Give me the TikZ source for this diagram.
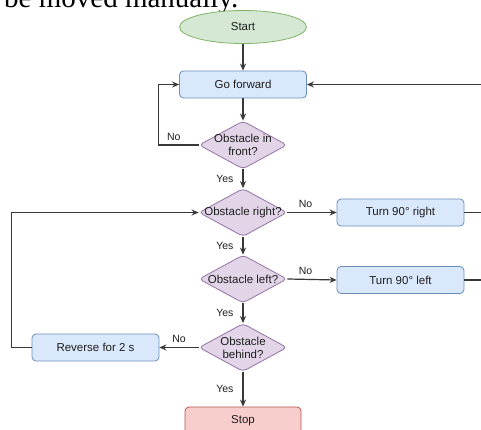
\documentclass[tikz,border=0pt]{standalone}
\usepackage{fontspec}
\newfontfamily\lsans{Liberation Sans}
\newfontfamily\lserif{Liberation Serif}
\usetikzlibrary{shapes.geometric,arrows.meta}
\definecolor{gfill}{HTML}{D5E8D4}\definecolor{gdraw}{HTML}{82B366}
\definecolor{bfill}{HTML}{DAE8FC}\definecolor{bdraw}{HTML}{6C8EBF}
\definecolor{pfill}{HTML}{E1D5E7}\definecolor{pdraw}{HTML}{9673A6}
\definecolor{rfill}{HTML}{F8CECC}\definecolor{rdraw}{HTML}{B85450}
\definecolor{ink}{HTML}{1E1E1E}
\definecolor{wire}{HTML}{383838}
\tikzset{
  txt/.style={font=\lsans\fontsize{11.5}{13}\selectfont, text=ink},
  proc/.style={txt, rectangle, rounded corners=4pt, draw=bdraw, fill=bfill, line width=0.8pt,
    minimum width=127pt, minimum height=27pt, inner sep=0pt},
  startbox/.style={txt, ellipse, draw=gdraw, fill=gfill, line width=0.8pt,
    minimum width=127pt, minimum height=33pt, inner sep=0pt},
  stopbox/.style={txt, rectangle, rounded corners=4pt, draw=rdraw, fill=rfill, line width=0.8pt,
    minimum width=116pt, minimum height=27pt, inner sep=0pt},
  dec/.style={diamond, rounded corners=4pt, draw=pdraw, fill=pfill, line width=0.8pt,
    minimum width=88pt, minimum height=48pt, inner sep=0pt},
  dlab/.style={txt, align=center, inner sep=0pt},
  lbl/.style={font=\lsans\fontsize{10.5}{12}\selectfont, text=ink, inner sep=0pt},
  conn/.style={draw=wire, line width=1.2pt},
  arr/.style={conn, -{Stealth[length=7pt,width=6pt]}},
}
\begin{document}
\begin{tikzpicture}[x=1pt,y=-1pt]
\useasboundingbox (0,0) rectangle (481,430);
\clip (0,0) rectangle (481,430);
\fill[white] (0,0) rectangle (481,430);
\node[font=\lserif\fontsize{29}{30}\selectfont, anchor=base west, inner sep=0pt] (head) at (4,8) {be moved manually.};

\node[startbox] (start) at (243,27) {Start};
\node[proc] (go) at (243,84.5) {Go forward};
\node[dec, label={[dlab]center:Obstacle in\\front?}] (d1) at (243,145) {};
\node[dec, label={[dlab]center:Obstacle right?}] (d2) at (243,212.5) {};
\node[dec, label={[dlab]center:Obstacle left?}] (d3) at (243,279) {};
\node[dec, label={[dlab]center:Obstacle\\behind?}] (d4) at (243,347.5) {};
\node[proc] (tr) at (400.5,212.5) {Turn 90° right};
\node[proc] (tl) at (400.5,280) {Turn 90° left};
\node[proc] (rev) at (95.5,347.5) {Reverse for 2 s};
\node[stopbox] (stop) at (243,420.5) {Stop};

\draw[arr] (start) -- (go);
\draw[arr] (go) -- (d1);
\draw[arr] (d1.west) -- node[lbl, above=4pt, pos=0.62]{No} ++(-40,0) |- (go.west);
\draw[arr] (d1) -- node[lbl, left=9pt]{Yes} (d2);
\draw[arr] (d2) -- node[lbl, left=9pt]{Yes} (d3);
\draw[arr] (d3) -- node[lbl, left=9pt]{Yes} (d4);
\draw[arr] (d4) -- node[lbl, left=9pt]{Yes} (stop);
\draw[arr] (d2.east) -- node[lbl, above=4pt, pos=0.37]{No} (tr.west);
\draw[arr] (d3.east) -- node[lbl, above=4pt, pos=0.37]{No} (tl.west);
\draw[arr] (d4.west) -- node[lbl, above=4pt]{No} (rev.east);
\draw[arr] (tr.east) -- ++(30,0) |- (go.east);
\draw[conn] (tl.east) -- ++(30,0) |- (tr.east);
\draw[arr] (rev.west) -- ++(-20,0) |- (d2.west);
\end{tikzpicture}
\end{document}
